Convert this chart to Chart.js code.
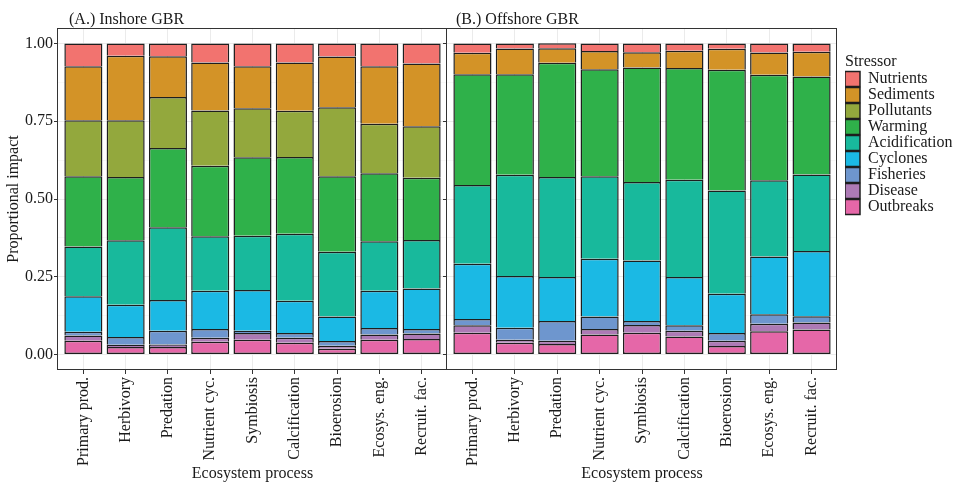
<!DOCTYPE html>
<html>
<head>
<meta charset="utf-8">
<title>Proportional impact of stressors on ecosystem processes</title>
<script src="https://cdn.jsdelivr.net/npm/chart.js@4/dist/chart.umd.min.js"></script>
<style>
  html, body { margin: 0; padding: 0; background: #ffffff; overflow: hidden; }
  #wrap { position: relative; width: 953px; height: 485px; overflow: hidden; background: #ffffff; }
  canvas { position: absolute; top: 0; }
  #inshore { left: 0; }
  #offshore { left: 440px; }
</style>
</head>
<body>
<div id="wrap">
  <canvas id="inshore" width="450" height="485"></canvas>
  <canvas id="offshore" width="540" height="485"></canvas>
</div>
<script>
// Ecosystem processes along the x axis
const processes = ['Primary prod.', 'Herbivory', 'Predation', 'Nutrient cyc.', 'Symbiosis',
                   'Calcification', 'Bioerosion', 'Ecosys. eng.', 'Recruit. fac.'];

// Stressors, listed top of the stack first
const stressors = ['Nutrients', 'Sediments', 'Pollutants', 'Warming', 'Acidification',
                   'Cyclones', 'Fisheries', 'Disease', 'Outbreaks'];
const stressorColours = ['#F2736F', '#D39327', '#93A83D', '#2FB14A', '#18B99C',
                         '#1BB9E4', '#6E96CE', '#AD7AB5', '#E567A8'];

// y axis tick labels
const yTickValues = [0, 0.25, 0.5, 0.75, 1];

// (A.) Inshore GBR - proportional impact per process
const inshoreNutrients     = [0.073, 0.039, 0.041, 0.061, 0.073, 0.061, 0.042, 0.073, 0.064];
const inshoreSediments     = [0.174, 0.208, 0.131, 0.154, 0.135, 0.155, 0.163, 0.185, 0.202];
const inshorePollutants    = [0.180, 0.182, 0.164, 0.178, 0.158, 0.149, 0.222, 0.159, 0.166];
const inshoreWarming       = [0.226, 0.204, 0.255, 0.227, 0.252, 0.247, 0.243, 0.219, 0.200];
const inshoreAcidification = [0.160, 0.207, 0.234, 0.175, 0.175, 0.215, 0.208, 0.159, 0.156];
const inshoreCyclones      = [0.114, 0.104, 0.099, 0.123, 0.131, 0.104, 0.079, 0.120, 0.130];
const inshoreFisheries     = [0.012, 0.025, 0.044, 0.028, 0.007, 0.015, 0.015, 0.021, 0.015];
const inshoreDisease       = [0.017, 0.007, 0.008, 0.013, 0.022, 0.016, 0.010, 0.017, 0.017];
const inshoreOutbreaks     = [0.044, 0.024, 0.024, 0.041, 0.047, 0.038, 0.018, 0.047, 0.050];

// (B.) Offshore GBR - proportional impact per process
const offshoreNutrients     = [0.030, 0.016, 0.016, 0.024, 0.028, 0.023, 0.017, 0.029, 0.026];
const offshoreSediments     = [0.069, 0.083, 0.047, 0.059, 0.049, 0.056, 0.067, 0.071, 0.080];
const offshorePollutants    = [0, 0, 0, 0, 0, 0, 0, 0, 0];
const offshoreWarming       = [0.356, 0.323, 0.367, 0.344, 0.368, 0.359, 0.389, 0.340, 0.315];
const offshoreAcidification = [0.253, 0.326, 0.322, 0.265, 0.253, 0.313, 0.332, 0.245, 0.246];
const offshoreCyclones      = [0.178, 0.166, 0.141, 0.186, 0.194, 0.155, 0.126, 0.186, 0.210];
const offshoreFisheries     = [0.020, 0.039, 0.064, 0.040, 0.013, 0.018, 0.025, 0.030, 0.020];
const offshoreDisease       = [0.024, 0.009, 0.010, 0.018, 0.025, 0.018, 0.017, 0.024, 0.023];
const offshoreOutbreaks     = [0.070, 0.038, 0.034, 0.064, 0.070, 0.058, 0.027, 0.075, 0.080];

const inshoreSeries = [inshoreNutrients, inshoreSediments, inshorePollutants, inshoreWarming,
  inshoreAcidification, inshoreCyclones, inshoreFisheries, inshoreDisease, inshoreOutbreaks];
const offshoreSeries = [offshoreNutrients, offshoreSediments, offshorePollutants, offshoreWarming,
  offshoreAcidification, offshoreCyclones, offshoreFisheries, offshoreDisease, offshoreOutbreaks];

const FONT = '"Liberation Serif", "Times New Roman", Times, serif';
const TEXT = '#1a1a1a';
const AXIS = '#333333';
Chart.defaults.font.family = FONT;
Chart.defaults.font.size = 16;
Chart.defaults.color = TEXT;

// Major breaks plus the minor breaks half way between them
const gridValues = [];
yTickValues.forEach((v, i) => {
  gridValues.push(v);
  if (i < yTickValues.length - 1) gridValues.push((v + yTickValues[i + 1]) / 2);
});
const isMajor = v => yTickValues.some(t => Math.abs(t - v) < 1e-9);

// Stacks are built bottom-up, so the last stressor goes first
function buildDatasets(series) {
  const sets = [];
  for (let k = stressors.length - 1; k >= 0; k--) {
    sets.push({
      label: stressors[k],
      data: series[k].map((v, i) => ({ x: i + 1, y: v })),
      backgroundColor: stressorColours[k],
      borderColor: '#1e1e1e',
      borderWidth: 1.5,
      borderSkipped: k === stressors.length - 1 ? false : 'start',
      categoryPercentage: 0.9,
      barPercentage: 1.0
    });
  }
  return sets;
}

// Panel border and the panel heading
const panelFrame = {
  id: 'panelFrame',
  afterDatasetsDraw(chart, args, opts) {
    const { ctx, chartArea: a } = chart;
    ctx.save();
    ctx.strokeStyle = AXIS;
    ctx.lineWidth = 1;
    const l = Math.round(a.left) - 0.5, t = Math.round(a.top) + 0.5;
    const r = Math.round(a.right) - 0.5, b = Math.round(a.bottom) - 0.5;
    ctx.strokeRect(l, t, r - l, b - t);
    ctx.restore();
  },
  afterDraw(chart, args, opts) {
    const { ctx, chartArea: a } = chart;
    ctx.save();
    ctx.font = '16px ' + FONT;
    ctx.fillStyle = TEXT;
    ctx.textAlign = 'left';
    ctx.textBaseline = 'alphabetic';
    ctx.fillText(opts.text, a.left + opts.dx, 24);
    ctx.restore();
  }
};

function buildScales(showY) {
  const scales = {
    x: {
      type: 'linear',
      min: 0.4,
      max: processes.length + 0.6,
      stacked: true,
      offset: false,
      afterBuildTicks: s => { s.ticks = processes.map((_, i) => ({ value: i + 1 })); },
      afterFit: s => { s.height = 115; },
      ticks: {
        autoSkip: false, minRotation: 90, maxRotation: 90, padding: 3,
        color: TEXT, font: { size: 16 },
        callback: v => processes[Math.round(v) - 1]
      },
      grid: { offset: false, color: '#ebebeb', lineWidth: 1, tickLength: 4, tickColor: AXIS },
      border: { display: false },
      title: {
        display: true, text: 'Ecosystem process', color: TEXT,
        font: { size: 16 }, padding: { top: 0, bottom: 2 }
      }
    },
    y: {
      type: 'linear',
      min: -0.05,
      max: 1.05,
      stacked: true,
      afterBuildTicks: s => { s.ticks = gridValues.map(v => ({ value: v })); },
      afterFit: s => { s.width = showY ? 58 : 7; },
      ticks: {
        display: showY, padding: 1, color: TEXT, font: { size: 16 },
        callback: v => (isMajor(v) ? v.toFixed(2) : '')
      },
      grid: {
        color: c => (c.tick && !isMajor(c.tick.value) ? '#f3f3f3' : '#ebebeb'),
        lineWidth: c => (c.tick && !isMajor(c.tick.value) ? 0.6 : 1),
        tickLength: 4,
        tickColor: c => (c.tick && !isMajor(c.tick.value) ? 'rgba(0,0,0,0)' : AXIS)
      },
      border: { display: false },
      title: {
        display: showY, text: 'Proportional impact', color: TEXT,
        font: { size: 16 }, padding: { top: 4, bottom: 0 }
      }
    }
  };
  return scales;
}

// Inshore panel with the y axis
new Chart(document.getElementById('inshore'), {
  type: 'bar',
  data: { datasets: buildDatasets(inshoreSeries) },
  plugins: [panelFrame],
  options: {
    responsive: false,
    animation: false,
    layout: { padding: { left: 0, right: 3, top: 28, bottom: 0 } },
    scales: buildScales(true),
    plugins: {
      legend: { display: false },
      tooltip: { enabled: false },
      panelFrame: { text: '(A.) Inshore GBR', dx: 11 }
    }
  }
});

// Legend sizing so the offshore panel ends where the legend begins
const measure = document.createElement('canvas').getContext('2d');
measure.font = '16px ' + FONT;
const widestLabel = Math.max(...stressors.map(s => measure.measureText(s).width));
const legendBox = 15;
const legendWidth = legendBox + 8 + widestLabel + 10;
const legendLeft = 845;
const rightPad = Math.max(0, 980 - legendLeft - legendWidth);

const offshoreScales = buildScales(false);
offshoreScales.gap = {
  type: 'linear',
  position: 'right',
  display: true,
  grid: { display: false, drawTicks: false },
  border: { display: false },
  ticks: { display: false },
  afterFit: s => { s.width = 8; }
};

// Offshore panel with the stressor legend
new Chart(document.getElementById('offshore'), {
  type: 'bar',
  data: { datasets: buildDatasets(offshoreSeries) },
  plugins: [panelFrame],
  options: {
    responsive: false,
    animation: false,
    layout: { padding: { left: 0, right: rightPad, top: 28, bottom: 0 } },
    scales: offshoreScales,
    plugins: {
      tooltip: { enabled: false },
      panelFrame: { text: '(B.) Offshore GBR', dx: 9 },
      legend: {
        display: true,
        position: 'right',
        align: 'start',
        reverse: true,
        maxWidth: 300,
        title: {
          display: true, text: 'Stressor', position: 'start', color: TEXT,
          font: { size: 16, lineHeight: 1 }, padding: { top: 26, bottom: 1 }
        },
        labels: {
          boxWidth: legendBox, boxHeight: legendBox, padding: 0,
          color: TEXT, font: { size: 16 }
        }
      }
    }
  }
});
</script>
</body>
</html>
